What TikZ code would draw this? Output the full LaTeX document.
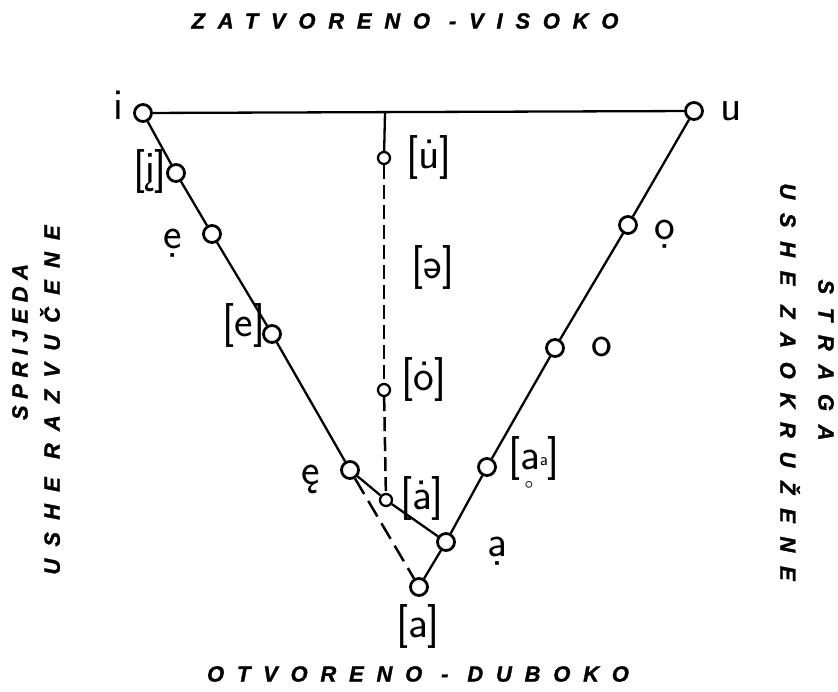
\documentclass[tikz,border=0pt]{standalone}
\usepackage{fontspec}
\usepackage{graphicx}
\newfontfamily\titlefont[LetterSpace=58,FakeBold=1.3]{Liberation Sans Bold Italic}
\newfontfamily\titlefontA[LetterSpace=30,FakeBold=1.3]{Liberation Sans Bold Italic}
\newfontfamily\titlefontB[LetterSpace=55,FakeBold=1.3]{Liberation Sans Bold Italic}
\newfontfamily\titlefontC[LetterSpace=62,FakeBold=1.3]{Liberation Sans Bold Italic}
\begin{document}
\begin{tikzpicture}[x=1pt,y=-1pt]
\useasboundingbox[fill=white] (0,0) rectangle (838,692);
\tikzset{
 vtx/.style={circle,draw,line width=2.8pt,minimum size=17pt,inner sep=0pt},
 svtx/.style={circle,draw,line width=2.3pt,minimum size=12pt,inner sep=0pt},
 lbl/.style={font=\sffamily\fontsize{44}{44}\selectfont,inner sep=0pt},
 edge/.style={line width=2.3pt},
 dedge/.style={line width=2.5pt,dash pattern=on 14pt off 6pt},
 ttl/.style={font=\titlefont\fontsize{22}{22}\selectfont,inner sep=0pt},
 ttlA/.style={font=\titlefontA\fontsize{22}{22}\selectfont,inner sep=0pt},
 ttlB/.style={font=\titlefontB\fontsize{22}{22}\selectfont,inner sep=0pt},
 ttlC/.style={font=\titlefontC\fontsize{22}{22}\selectfont,inner sep=0pt},
}
% vertices
\node[vtx] (i) at (143,113) {};
\node[vtx] (u) at (694,111) {};
\node[vtx] (ij) at (176,173) {};
\node[vtx] (ed) at (212,234) {};
\node[vtx] (e) at (272,334) {};
\node[vtx] (eo) at (350,470) {};
\node[svtx] (adot) at (386,500) {};
\node[vtx] (ad) at (446,542) {};
\node[vtx] (a) at (419,587) {};
\node[vtx] (ar) at (487,467) {};
\node[vtx] (o) at (555,348) {};
\node[vtx] (od) at (628,225) {};
\node[svtx] (udot) at (384,158) {};
\node[svtx] (odot) at (384,390) {};
\coordinate (top) at (385,113);
% labels
\node[lbl] (li) at (118,105) {i};
\node[lbl] (lu) at (731,111) {u};
\node[lbl] (lij) at (150,172) {[į]};
\node[lbl] (led) at (173,243) {ẹ};
\node[lbl] (le) at (244,326) {[e]};
\node[lbl] (leo) at (311,479) {ę};
\node[lbl] (ladot) at (422,498) {[a^^^^0307]};
\node[lbl] (lad) at (497,551) {ạ};
\node[lbl] (la) at (418,626) {[a]};
\node[lbl] (lar) at (534,468) {[a\llap{\makebox[0.5em]{\raisebox{-30pt}{\fontsize{26}{26}\selectfont °}}}\raisebox{4pt}{\fontsize{18}{18}\selectfont a}]};
\node[lbl] (lo) at (602,347) {o};
\node[lbl] (lod) at (665,234) {ọ};
\node[lbl] (ludot) at (429,158) {[u̇]};
\node[lbl] (lschwa) at (433,268) {[ə]};
\node[lbl] (lodot) at (424,380) {[o^^^^0307]};
% edges
\draw[edge] (i) -- (u);
\draw[edge] (i) -- (ij);
\draw[edge] (ij) -- (ed);
\draw[edge] (ed) -- (e);
\draw[edge] (e) -- (eo);
\draw[edge] (eo) -- (adot);
\draw[edge] (adot) -- (ad);
\draw[edge] (ad) -- (a);
\draw[edge] (u) -- (od);
\draw[edge] (od) -- (o);
\draw[edge] (o) -- (ar);
\draw[edge] (ar) -- (ad);
\draw[edge] (top) -- (udot);
\draw[dedge] (udot) -- (odot);
\draw[dedge] (odot) -- (adot);
\draw[dedge,dash pattern=on 18pt off 8pt] (eo) -- (a);
% titles
\node[ttl] (ttop) at (405,21) {ZATVORENO -VISOKO};
\node[ttl] (tbot) at (418,674) {OTVORENO - DUBOKO};
\node[ttlA,rotate=90] (tl1) at (20,342) {SPRIJEDA};
\node[ttlB,rotate=90] (tl2) at (50,400) {USHE RAZVUČENE};
\node[ttlC,rotate=-90] (tr1) at (826,360) {STRAGA};
\node[ttlC,rotate=-90] (tr2) at (790,382) {USHE ZAOKRUŽENE};
\end{tikzpicture}
\end{document}
